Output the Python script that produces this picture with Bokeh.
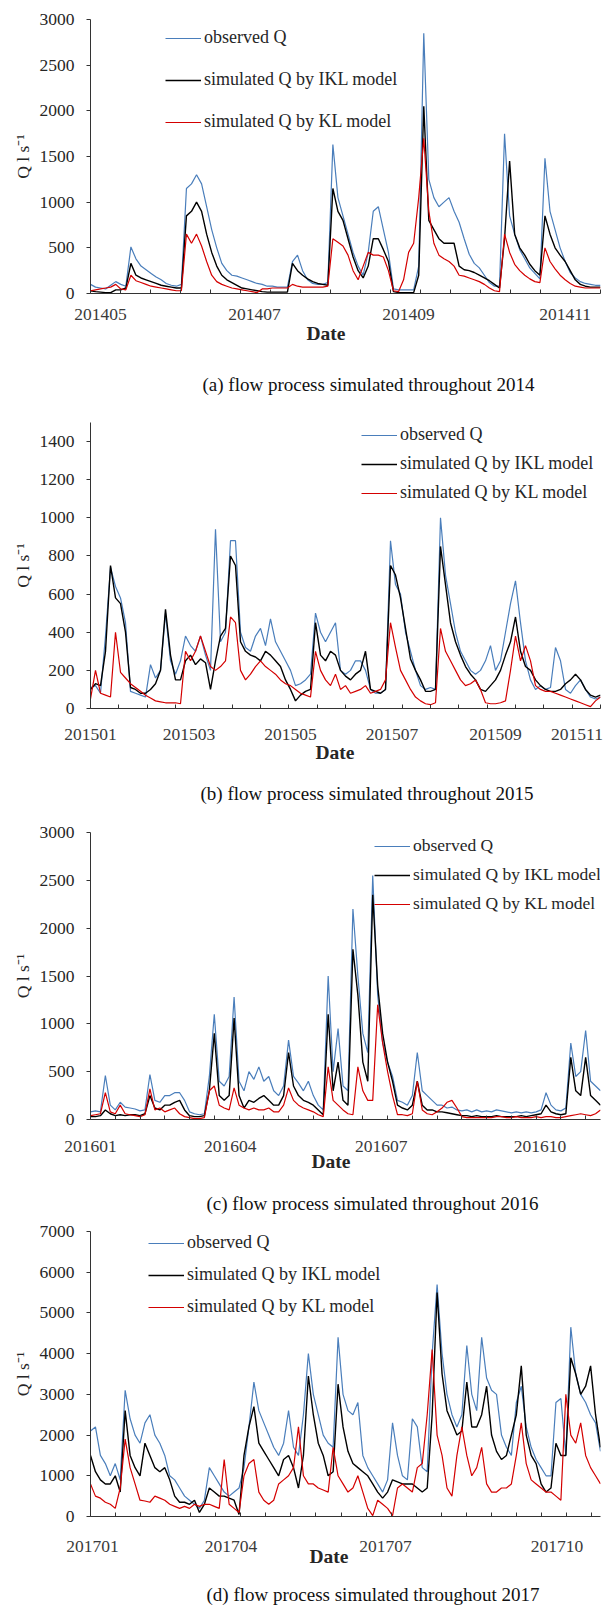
import numpy as np
from bokeh.plotting import figure
from bokeh.models import Range1d, FixedTicker, Legend, LegendItem, Title
from bokeh.layouts import column
from bokeh.embed import file_html
from bokeh.resources import INLINE

FONT = "Liberation Serif"
TEXT = "#262626"

# ---- 2014: one record every 2 days (27 Apr - 16 Nov) ----
obs_2014 = [100, 70, 60, 50, 90, 130, 100, 80, 510, 380,
            300, 260, 220, 180, 150, 110, 90, 80, 100, 1150,
            1200, 1300, 1200, 950, 700, 500, 330, 250, 200, 190,
            170, 150, 130, 110, 100, 80, 80, 70, 70, 70,
            350, 420, 250, 150, 110, 100, 100, 120, 1630, 1050,
            850, 650, 450, 300, 200, 450, 900, 950, 700, 450,
            50, 40, 40, 40, 40, 300, 2850, 1250, 1050, 950,
            1000, 1050, 900, 780, 600, 430, 330, 280, 200, 120,
            80, 80, 1750, 850, 650, 480, 380, 280, 220, 160,
            1480, 900, 700, 500, 350, 230, 170, 130, 110, 100,
            90, 90]
ikl_2014 = [30, 20, 15, 10, 10, 40, 40, 60, 330, 200,
            170, 150, 130, 110, 90, 80, 70, 60, 60, 850,
            900, 1000, 900, 650, 450, 300, 200, 150, 120, 90,
            60, 50, 40, 30, 20, 15, 15, 15, 15, 15,
            330, 250, 200, 160, 130, 110, 100, 90, 1150, 900,
            800, 600, 400, 250, 170, 300, 600, 600, 480, 350,
            20, 10, 10, 10, 10, 200, 2050, 800, 700, 600,
            550, 550, 550, 300, 260, 250, 230, 200, 170, 140,
            100, 60, 600, 1450, 650, 500, 420, 320, 250, 200,
            850, 650, 500, 420, 350, 250, 150, 100, 80, 70,
            70, 70]
kl_2014 = [30, 40, 50, 60, 70, 100, 50, 40, 200, 140,
           120, 100, 80, 70, 60, 50, 40, 30, 30, 650,
           550, 650, 520, 350, 200, 130, 100, 80, 60, 50,
           40, 30, 20, 10, 50, 50, 60, 60, 60, 60,
           100, 80, 70, 70, 70, 70, 70, 80, 600, 560,
           520, 420, 250, 150, 300, 450, 420, 420, 400, 250,
           30, 20, 150, 450, 550, 1050, 1700, 900, 550, 420,
           380, 350, 300, 200, 190, 170, 150, 130, 100, 60,
           30, 20, 650, 450, 320, 250, 200, 160, 130, 120,
           500, 350, 270, 200, 150, 110, 80, 70, 60, 60,
           60, 60]
labels_2014 = ["201405", "201407", "201409", "201411"]
label_rec_2014 = [2, 32.5, 63, 94]

# ---- 2015: one record every 3 days (1 Jan - 2 Nov) ----
obs_2015 = [110, 120, 80, 380, 740, 640, 580, 450, 90, 80,
            70, 60, 230, 160, 200, 500, 250, 180, 250, 380,
            330, 300, 380, 280, 200, 940, 350, 400, 880, 880,
            400, 320, 300, 380, 420, 330, 470, 350, 300, 250,
            200, 120, 130, 150, 180, 500, 400, 350, 400, 450,
            200, 180, 200, 250, 250, 200, 100, 80, 80, 100,
            880, 650, 600, 400, 300, 200, 120, 100, 110, 100,
            1000, 700, 550, 400, 300, 250, 200, 180, 200, 250,
            330, 200, 250, 400, 550, 670, 450, 250, 150, 100,
            120, 100, 110, 320, 250, 100, 80, 120, 150, 100,
            60, 50, 60]
ikl_2015 = [100, 130, 120, 300, 750, 580, 550, 400, 110, 100,
            80, 80, 100, 130, 200, 520, 280, 150, 150, 250,
            280, 230, 260, 240, 100, 250, 380, 420, 800, 750,
            350, 300, 280, 270, 250, 300, 280, 250, 220, 150,
            100, 40, 70, 90, 100, 450, 280, 250, 300, 280,
            200, 170, 150, 180, 200, 300, 100, 90, 80, 100,
            750, 700, 580, 420, 260, 200, 150, 90, 90, 100,
            850, 650, 450, 350, 280, 220, 180, 150, 100, 90,
            120, 150, 200, 280, 350, 480, 300, 220, 200, 150,
            120, 100, 90, 90, 100, 130, 150, 180, 150, 100,
            70, 60, 70]
kl_2015 = [50, 200, 80, 70, 60, 400, 190, 160, 130, 110,
           90, 70, 55, 40, 35, 30, 30, 30, 25, 300,
           250, 300, 380, 300, 220, 200, 220, 250, 480, 450,
           200, 150, 180, 220, 250, 220, 200, 180, 150, 130,
           120, 100, 80, 70, 60, 300, 200, 150, 120, 180,
           100, 120, 80, 90, 100, 120, 80, 90, 100, 150,
           450, 320, 200, 150, 100, 60, 40, 25, 20, 30,
           420, 300, 250, 200, 150, 120, 130, 150, 100, 30,
           25, 25, 30, 40, 200, 380, 250, 330, 250, 120,
           100, 90, 90, 80, 70, 60, 50, 40, 30, 20,
           10, 40, 60]
labels_2015 = ["201501", "201503", "201505", "201507", "201509", "201511"]
label_rec_2015 = [0, 19.7, 40, 60.3, 81, 97.3]

# ---- 2016 ----
obs_2016 = [80, 90, 80, 460, 150, 100, 180, 130, 120, 110,
            90, 100, 470, 200, 180, 250, 250, 280, 280, 200,
            80, 60, 50, 60, 450, 1100, 400, 350, 450, 1280,
            400, 300, 500, 420, 550, 400, 450, 300, 250, 350,
            830, 450, 380, 300, 400, 250, 150, 100, 1500, 500,
            950, 350, 300, 2200, 1500, 900, 700, 2550, 1300, 800,
            600, 450, 200, 180, 150, 250, 700, 300, 250, 200,
            150, 150, 120, 130, 100, 90, 100, 80, 100, 80,
            90, 80, 100, 90, 80, 70, 80, 70, 80, 70,
            80, 100, 280, 150, 100, 90, 120, 800, 450, 500,
            930, 400, 350, 300]
ikl_2016 = [30, 30, 40, 100, 60, 40, 50, 40, 50, 50,
            40, 60, 250, 120, 100, 150, 150, 180, 200, 100,
            40, 30, 30, 40, 300, 900, 250, 200, 250, 1060,
            250, 120, 200, 180, 220, 250, 200, 150, 150, 250,
            700, 350, 250, 200, 180, 150, 100, 50, 1100, 300,
            600, 200, 150, 1780, 1300, 600, 400, 2350, 1400, 900,
            600, 400, 150, 120, 100, 150, 400, 150, 100, 100,
            80, 80, 70, 60, 50, 40, 40, 30, 40, 30,
            30, 30, 40, 30, 30, 30, 30, 40, 30, 40,
            50, 60, 150, 80, 60, 50, 60, 650, 300, 250,
            650, 250, 200, 150]
kl_2016 = [40, 50, 60, 280, 80, 60, 150, 60, 50, 40,
           30, 50, 320, 100, 120, 80, 100, 120, 60, 30,
           20, 10, 10, 20, 300, 350, 150, 120, 100, 330,
           150, 120, 100, 120, 100, 100, 120, 80, 80, 150,
           330, 200, 150, 120, 100, 80, 50, 30, 550, 200,
           150, 100, 60, 50, 550, 300, 200, 200, 1200, 800,
           500, 250, 50, 50, 40, 60, 400, 100, 60, 50,
           80, 120, 180, 200, 120, 30, 20, 20, 20, 20,
           20, 20, 30, 30, 20, 20, 30, 20, 20, 20,
           30, 20, 30, 30, 20, 20, 30, 40, 50, 60,
           50, 40, 60, 100]
labels_2016 = ["201601", "201604", "201607", "201610"]
label_rec_2016 = [0, 28.2, 58.7, 90.8]

# ---- 2017 ----
obs_2017 = [2100, 2200, 1500, 1300, 1000, 1300, 900, 3100, 2400, 2000,
            1800, 2300, 2500, 2000, 1800, 1500, 1000, 900, 700, 500,
            400, 300, 200, 400, 1200, 1000, 800, 600, 500, 600,
            700, 1200, 2200, 3300, 2600, 2300, 2000, 1700, 1500, 1800,
            2600, 1700, 1500, 2500, 4000, 3000, 2500, 2000, 1800, 1700,
            4400, 3000, 2600, 2500, 2800, 1500, 1200, 1000, 800, 600,
            900, 2300, 1500, 1000, 900, 2400, 2200, 1200, 1100, 4000,
            5700, 4000, 3000, 2500, 2200, 2500, 4200, 3000, 2600, 4400,
            3400, 3100, 3000, 2000, 1700, 1500, 2800, 3200, 2200, 1700,
            1400, 1200, 1000, 1000, 2800, 2900, 1500, 4650, 3500, 3000,
            2800, 2500, 2300, 1600]
ikl_2017 = [1500, 1100, 900, 800, 800, 1000, 600, 2600, 1500, 1200,
            1000, 1800, 1500, 1200, 1100, 1200, 900, 500, 350, 350,
            300, 400, 100, 300, 700, 600, 500, 500, 450, 400,
            50, 1500, 2200, 2700, 1800, 1600, 1400, 1200, 1000, 1400,
            1500, 1200, 700, 1500, 3450, 2500, 1800, 1500, 1000, 1100,
            3250, 2200, 1600, 1300, 1200, 1100, 1000, 800, 600, 450,
            600, 900, 850, 800, 800, 800, 700, 600, 700, 2500,
            5500, 3500, 2600, 2300, 2000, 2100, 3300, 2200, 2200, 2500,
            3200, 2000, 1600, 1400, 1500, 2000, 2500, 3700, 2000, 1500,
            1300, 800, 600, 700, 1800, 1500, 1500, 3900, 3500, 3000,
            3200, 3700, 2500, 1700]
kl_2017 = [800, 500, 450, 350, 300, 200, 700, 1900, 1200, 800,
           400, 380, 350, 500, 450, 400, 300, 250, 200, 250,
           200, 300, 250, 300, 300, 250, 200, 1400, 300, 200,
           100, 1000, 1300, 1400, 600, 400, 300, 400, 800, 900,
           1000, 1200, 2200, 1000, 800, 800, 700, 650, 600, 1700,
           1000, 800, 600, 700, 1000, 600, 200, 20, 400, 300,
           200, 20, 700, 800, 700, 600, 1200, 1300, 2500, 4100,
           2000, 1500, 700, 500, 1500, 2200, 1500, 1000, 1200, 1700,
           800, 600, 600, 700, 700, 800, 1500, 2300, 1300, 900,
           800, 700, 600, 600, 500, 400, 3000, 2000, 1800, 2300,
           1500, 1200, 1000, 800]
labels_2017 = ["201701", "201704", "201707", "201710"]
label_rec_2017 = [0.4, 28.4, 59.6, 94.2]

SERIES = [("observed Q", "#4a7ebb", 1.2),
          ("simulated Q by IKL model", "#000000", 1.4),
          ("simulated Q by KL model", "#d40000", 1.2)]


def build(obs, ikl, kl, labels, label_rec, minor_step, ymax, ytop, ystep, caption,
          height, top, bottom, left, right, xlab_standoff,
          leg_x, leg_y, leg_gap, leg_size,
          date_offset, date_standoff, gap, cap_offset):
    n = len(obs)
    p = figure(width=612, height=height, output_backend="svg", toolbar_location=None,
               x_range=Range1d(0, n - 1), y_range=Range1d(0, ymax),
               min_border_left=left, min_border_right=right,
               min_border_top=top, min_border_bottom=bottom)
    p.outline_line_color = None
    p.grid.visible = False

    x = np.arange(n)
    rends = []
    for ys, (name, color, lw) in zip((obs, ikl, kl), SERIES):
        rends.append(p.line(x, ys, line_color=color, line_width=lw))

    # x axis: month labels, short inward marks between them
    xa = p.xaxis[0]
    xa.ticker = FixedTicker(ticks=label_rec,
                            minor_ticks=list(np.arange(0, n - 1 + 1e-6, minor_step)))
    xa.major_label_overrides = {pos: lab for pos, lab in zip(label_rec, labels)}
    xa.major_tick_in = 0
    xa.major_tick_out = 0
    xa.minor_tick_in = 4
    xa.minor_tick_out = 0
    xa.axis_line_color = "#333333"
    xa.minor_tick_line_color = "#333333"
    xa.major_label_standoff = xlab_standoff
    xa.major_label_text_font = FONT
    xa.major_label_text_font_size = "17.5px"
    xa.major_label_text_color = "#3a3a3a"

    ya = p.yaxis[0]
    ya.ticker = FixedTicker(ticks=list(range(0, ytop + 1, ystep)))
    ya.major_tick_in = 0
    ya.major_tick_out = 4
    ya.minor_tick_in = 0
    ya.minor_tick_out = 0
    ya.axis_line_color = "#333333"
    ya.major_tick_line_color = "#333333"
    ya.major_label_standoff = 12
    ya.major_label_text_font = FONT
    ya.major_label_text_font_size = "17.5px"
    ya.major_label_text_color = TEXT
    ya.axis_label = "Q l s\u207b\u00b9"
    ya.axis_label_text_font = FONT
    ya.axis_label_text_font_style = "normal"
    ya.axis_label_text_font_size = "17.5px"
    ya.axis_label_text_color = TEXT
    ya.axis_label_standoff = 4

    legend = Legend(items=[LegendItem(label=s[0], renderers=[r]) for s, r in zip(SERIES, rends)],
                    location=(leg_x, leg_y), orientation="vertical",
                    glyph_width=36, glyph_height=20, label_height=20,
                    label_standoff=3, spacing=leg_gap, padding=0, margin=0,
                    border_line_alpha=0, background_fill_alpha=0,
                    label_text_font=FONT, label_text_font_size=leg_size,
                    label_text_color=TEXT)
    p.add_layout(legend)

    # "Date" under the axis, blank space, then the panel caption
    p.add_layout(Title(text="Date", align="left", offset=date_offset,
                       standoff=date_standoff, vertical_align="bottom",
                       text_font=FONT, text_font_style="bold",
                       text_font_size="19.5px", text_color=TEXT), "below")
    p.add_layout(Title(text="\u00a0", align="left", standoff=gap - 3,
                       text_font=FONT, text_font_size="1px",
                       text_color="white"), "below")
    p.add_layout(Title(text=caption, align="left", offset=cap_offset,
                       standoff=0, vertical_align="bottom",
                       text_font=FONT, text_font_style="normal",
                       text_font_size="19px", text_color="#111111"), "below")
    return p


pa = build(obs_2014, ikl_2014, kl_2014, labels_2014, label_rec_2014, 101 / 17,
           3000, 3000, 500, "(a) flow process simulated throughout 2014",
           height=398, top=19, bottom=105, left=83, right=2, xlab_standoff=15,
           leg_x=75, leg_y=161, leg_gap=21, leg_size="18px",
           date_offset=216, date_standoff=-4, gap=30, cap_offset=112)
pb = build(obs_2015, ikl_2015, kl_2015, labels_2015, label_rec_2015, 17 / 3,
           1500, 1400, 200, "(b) flow process simulated throughout 2015",
           height=414, top=24, bottom=104, left=90, right=10, xlab_standoff=20,
           leg_x=271, leg_y=205, leg_gap=8, leg_size="18px",
           date_offset=225, date_standoff=-6, gap=21, cap_offset=110)
pc = build(obs_2016, ikl_2016, kl_2016, labels_2016, label_rec_2016, 5,
           3000, 3000, 500, "(c) flow process simulated throughout 2016",
           height=409, top=20, bottom=102, left=85, right=12, xlab_standoff=21,
           leg_x=284, leg_y=205, leg_gap=8, leg_size="17.5px",
           date_offset=221, date_standoff=-12, gap=25, cap_offset=116)
pd_ = build(obs_2017, ikl_2017, kl_2017, labels_2017, label_rec_2017, 5.06,
            7000, 7000, 1000, "(d) flow process simulated throughout 2017",
            height=386, top=10, bottom=91, left=87, right=8, xlab_standoff=24,
            leg_x=58, leg_y=199, leg_gap=11, leg_size="18px",
            date_offset=219, date_standoff=-22, gap=26, cap_offset=116)

page = column(pa, pb, pc, pd_, spacing=0)
open("out.html", "w").write(file_html(page, INLINE))
